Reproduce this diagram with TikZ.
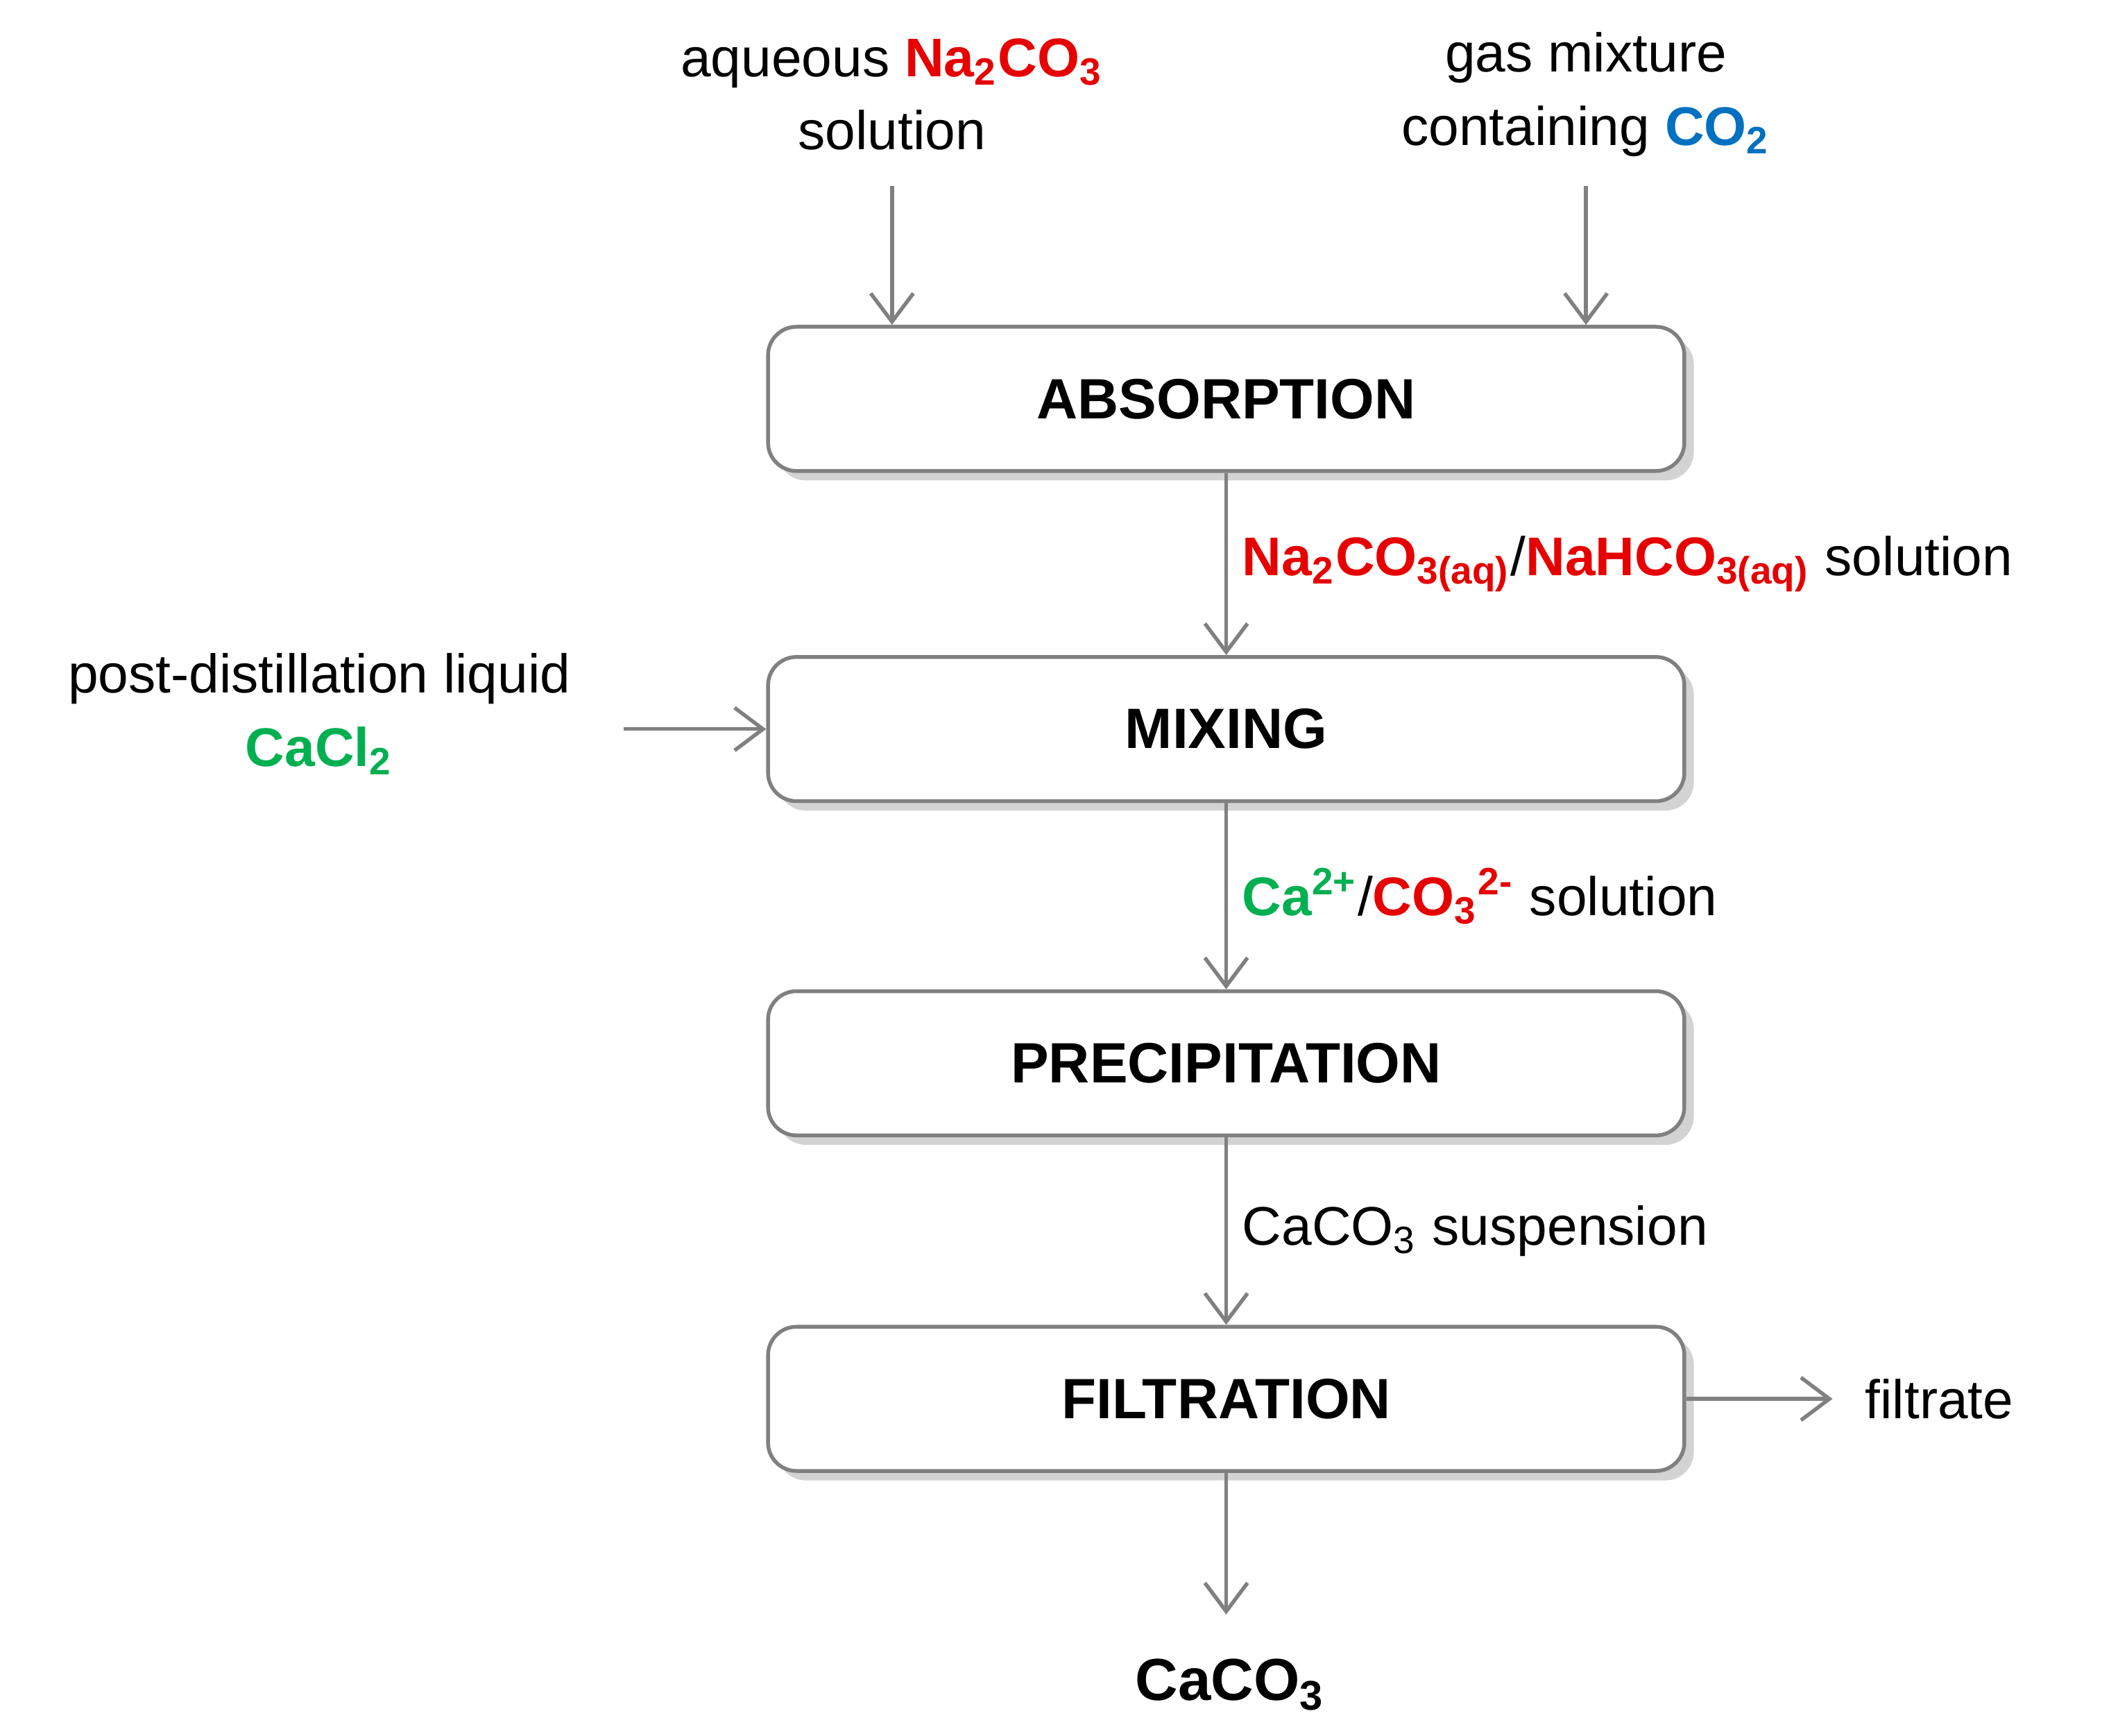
\documentclass[tikz,border=0pt]{standalone}
\usepackage{fontspec}
\setmainfont{Liberation Sans}
\usetikzlibrary{positioning,arrows.meta,shadows}
\definecolor{chred}{RGB}{230,0,0}
\definecolor{chgreen}{RGB}{0,176,80}
\definecolor{chblue}{RGB}{0,112,192}
\definecolor{line}{RGB}{128,128,128}
\newcommand{\rd}[1]{\textcolor{chred}{\textbf{#1}}}
\newcommand{\gr}[1]{\textcolor{chgreen}{\textbf{#1}}}
\newcommand{\bl}[1]{\textcolor{chblue}{\textbf{#1}}}
\newcommand{\sbs}[1]{\textsubscript{#1}}
\newcommand{\sps}[1]{\textsuperscript{#1}}

\begin{document}
\begin{tikzpicture}[
    font=\fontsize{11.5}{15.5}\selectfont,
    stage/.style={rectangle, draw=line, thick, fill=white, rounded corners=6pt, minimum width=6.8cm, minimum height=1.07cm, font=\fontsize{12}{14}\selectfont\bfseries, drop shadow={shadow xshift=2pt, shadow yshift=-2pt, opacity=0.35}},
    txt/.style={align=center, inner sep=1pt, text=black},
    arrow/.style={-{Straight Barb[length=6pt,width=9pt]}, line, thick}
]
    \useasboundingbox (0,0) rectangle (15.6,12.88);
    % process steps
    \node[stage] (abs) at (9.1,9.92) {ABSORPTION};
    \node[stage] (mix) at (9.1,7.47) {MIXING};
    \node[stage] (pre) at (9.1,4.99) {PRECIPITATION};
    \node[stage] (fil) at (9.1,2.50) {FILTRATION};

    % inputs and outputs
    \node[txt] (na) at (6.62,12.18) {aqueous \rd{Na\sbs{2}CO\sbs{3}}\\solution};
    \node[txt] (gas) at (11.77,12.18) {gas mixture\\containing \bl{CO\sbs{2}}};
    \node[txt] (cacl) at (2.37,7.58) {post-distillation liquid\\\gr{CaCl\sbs{2}}};
    \coordinate (caclend) at (4.63,7.47);
    \coordinate (filend) at (13.6,2.50);
    \node[txt, anchor=west] (filtrate) at (13.8,2.50) {filtrate};
    \coordinate (botend) at (9.1,0.90);
    \node[txt] (caco) at (9.13,0.38) {\fontsize{12.5}{15}\selectfont\textbf{CaCO\sbs{3}}};
    \coordinate (naend) at (6.62,11.5);
    \coordinate (gasend) at (11.77,11.5);

    \draw[arrow] (naend) -- (naend |- abs.north);
    \draw[arrow] (gasend) -- (gasend |- abs.north);
    \draw[arrow] (abs) -- (mix) node[txt, midway, right=2pt] {\rd{Na\sbs{2}CO\sbs{3(aq)}}/\rd{NaHCO\sbs{3(aq)}} solution};
    \draw[arrow] (caclend) -- (mix);
    \draw[arrow] (mix) -- (pre) node[txt, midway, right=2pt] {\gr{Ca\sps{2+}}/\rd{CO\sbs{3}\sps{2-}} solution};
    \draw[arrow] (pre) -- (fil) node[txt, midway, right=2pt] {CaCO\sbs{3} suspension};
    \draw[arrow] (fil) -- (filend);
    \draw[arrow] (fil) -- (botend);
\end{tikzpicture}
\end{document}
